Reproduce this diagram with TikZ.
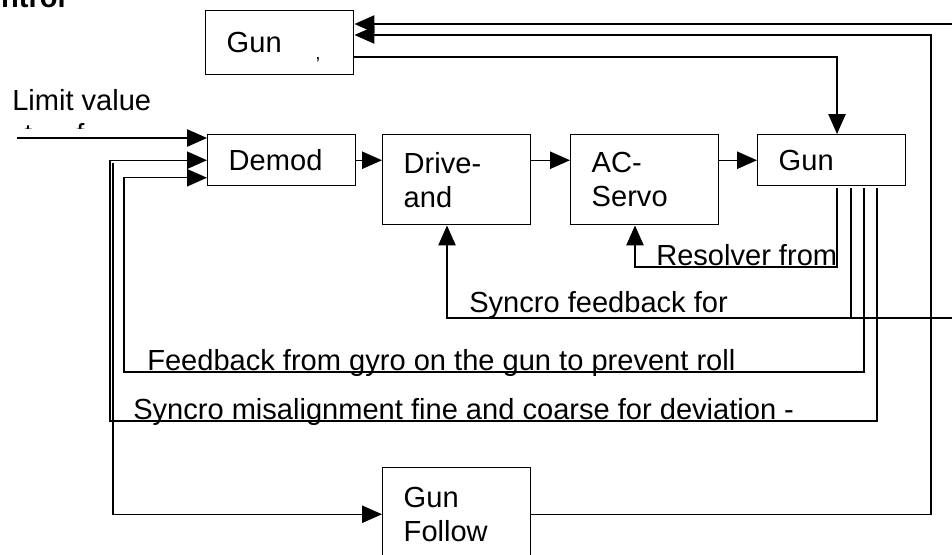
\documentclass[tikz,border=0pt]{standalone}
\usepackage{fontspec}
\setmainfont{Liberation Sans}
\usetikzlibrary{arrows.meta}
\usetikzlibrary{calc}

\begin{document}
\begin{tikzpicture}[x=0.75pt,y=0.75pt,yscale=-1,xscale=1,
  every node/.style={font=\fontsize{21.8}{25.5}\selectfont},
  blk/.style={draw, line width=1.1pt, anchor=north west, inner xsep=15.75pt, inner ysep=0pt, text width=79.5pt, align=left},
  wire/.style={line width=1.1pt},
  feed/.style={wire, -{Triangle[length=15pt,width=13pt]}},
  lbl/.style={anchor=base west, inner sep=0pt}]
\useasboundingbox (0,0) rectangle (952,554);

% heading, cut at the top edge
\node [anchor=base east, inner sep=0pt, font=\fontsize{21.8}{25.5}\selectfont\bfseries] (ttl) at (66,7) {Control};

% Blocks
\node [blk, minimum height=48pt] (topgun) at (205,10) {Gun};
\node [blk, minimum height=38.25pt] (demod) at (207,134) {Demod};
\node [blk, minimum height=67.5pt] (drive) at (382,134) {Drive-\\and};
\node [blk, minimum height=67.5pt] (acservo) at (570,134) {AC-\\Servo};
\node [blk, minimum height=38.25pt] (gun) at (757,134) {Gun};
\node [blk, minimum height=69.75pt] (follow) at (382,467) {Gun\\Follow};
\node [anchor=base west, inner sep=0pt, font=\fontsize{14}{14}\selectfont] (mark) at (315,59) {,};

% Text Node
\node [lbl] (limit) at (12,110) {Limit value};
\begin{scope}
\clip (0,118) rectangle (200,128.5);
\node [lbl] (limt) at (24,144) {t};
\node [lbl] (limf) at (76,144) {f};
\end{scope}
\node [lbl] (rsltxt) at (656,265) {Resolver from};
\node [lbl] (sfbtxt) at (469,312) {Syncro feedback for};
\node [lbl] (gyrtxt) at (147,370) {Feedback from gyro on the gun to prevent roll};
\node [lbl] (mistxt) at (133,419) {Syncro misalignment fine and coarse for deviation -};

% bends of the wires
\coordinate (lim) at (17,138);
\coordinate (tap1) at (837,188);
\coordinate (tap2) at (851,188);
\coordinate (tap3) at (864,188);
\coordinate (tap4) at (877,188);
\coordinate (rsl) at (635,267);
\coordinate (sfb) at (447,318);
\coordinate (sfbR) at (956,318);
\coordinate (gyr) at (124,372);
\coordinate (mis) at (110,421);
\coordinate (gfa) at (113,163);
\coordinate (rt) at (931,35);
\coordinate (top) at (956,24);
\coordinate (drop) at (837,57);

% forward path
\draw [feed] (lim) -- (lim -| demod.west);
\draw [feed] (demod.east) -- (demod.east -| drive.west);
\draw [feed] (drive.east |- demod.east) -- (demod.east -| acservo.west);
\draw [feed] (acservo.east |- demod.east) -- (demod.east -| gun.west);
\draw [feed] (topgun.east |- drop) -- (drop) -- (drop |- gun.north);

% feedback paths
\draw [feed] (tap1) |- (rsl) -- (rsl |- acservo.south);
\draw [wire] (tap2) -- (tap2 |- sfb);
\draw [feed] (sfbR) -- (sfb) -- (sfb |- drive.south);
\draw [feed] (tap3) |- (gyr) |- ($(demod.west)+(0,17.5)$);
\draw [feed] (tap4) |- (mis) |- (demod.west);
\draw [feed] (gfa) |- (follow.west);
\draw [feed] (follow.east) -| (rt) -- (rt -| topgun.east);
\draw [feed] (top) -- (top -| topgun.east);

\end{tikzpicture}
\end{document}
